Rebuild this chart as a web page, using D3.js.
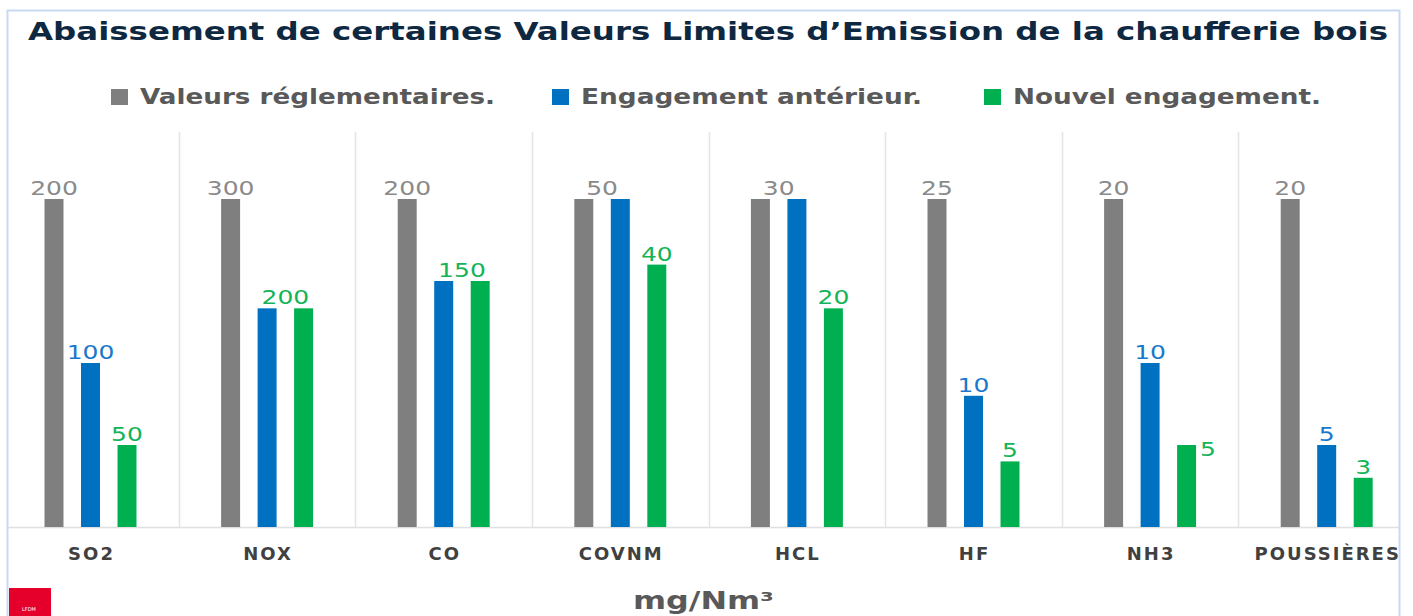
<!DOCTYPE html>
<html lang="fr">
	<head>
		<meta charset="utf-8">
		<title>Abaissement des VLE</title>
		<script src="https://cdn.jsdelivr.net/npm/d3@7"></script>
		<style type="text/css">
			body { margin: 0; background: #fff; }
			text { font-family: "DejaVu Sans", sans-serif; }
		</style>
	</head>
	<body>
		<script type="text/javascript">

			const w = 1413;
			const h = 616;

			// data (mg/Nm3)
			const categories = ["SO2", "NOX", "CO", "COVNM", "HCL", "HF", "NH3", "POUSSIÈRES"];
			const valeursReglementaires = [200, 300, 200, 50, 30, 25, 20, 20];
			const engagementAnterieur = [100, 200, 150, 50, 30, 10, 10, 5];
			const nouvelEngagement = [50, 200, 150, 40, 20, 5, 5, 3];
			const seriesNames = ["Valeurs réglementaires.", "Engagement antérieur.", "Nouvel engagement."];

			const colors = ["#7f7f7f", "#0070c0", "#00b050"];
			const labelColors = ["#8a8a8a", "#1a78cc", "#13b457"];

			const allSeries = [valeursReglementaires, engagementAnterieur, nouvelEngagement];

			const svg = d3.select("body")
				.append("svg")
				.attr("width", w)
				.attr("height", h);

			// frame
			svg.append("rect")
				.attr("x", 7.5)
				.attr("y", 10.5)
				.attr("width", 1392)
				.attr("height", 640)
				.attr("fill", "none")
				.attr("stroke", "#c9daf0")
				.attr("stroke-width", 2);

			svg.append("text")
				.attr("x", 28)
				.attr("y", 40)
				.attr("font-size", 25)
				.attr("font-weight", "bold")
				.attr("fill", "#0e2841")
				.attr("textLength", 1360)
				.attr("lengthAdjust", "spacingAndGlyphs")
				.text("Abaissement de certaines Valeurs Limites d\u2019Emission de la chaufferie bois");

			// legend
			const legendX = [111, 552, 984];
			const legendW = [355, 341, 308];
			const legend = svg.selectAll(".legend")
				.data(seriesNames)
				.enter()
				.append("g")
				.attr("class", "legend")
				.attr("transform", (d, i) => "translate(" + legendX[i] + ",89)");

			legend.append("rect")
				.attr("width", 17)
				.attr("height", 16)
				.attr("fill", (d, i) => colors[i]);

			legend.append("text")
				.attr("x", 29)
				.attr("y", 15)
				.attr("font-size", 21)
				.attr("font-weight", "bold")
				.attr("fill", "#595959")
				.attr("textLength", (d, i) => legendW[i])
				.attr("lengthAdjust", "spacingAndGlyphs")
				.text((d) => d);

			// scales
			const xScale = d3.scaleBand()
				.domain(categories)
				.range([2.2, 1415]);

			const xInner = d3.scaleBand()
				.domain([0, 1, 2])
				.range([xScale.bandwidth() / 2 - 54.75, xScale.bandwidth() / 2 + 54.75])
				.paddingInner(0.48)
				.paddingOuter(0.24);

			const yScale = d3.scaleLinear()
				.domain([0, 1])
				.range([527, 199]);

			// category separators
			svg.selectAll(".sep")
				.data(categories.slice(1))
				.enter()
				.append("line")
				.attr("x1", (d) => Math.round(xScale(d)) + 0.5)
				.attr("x2", (d) => Math.round(xScale(d)) + 0.5)
				.attr("y1", 132)
				.attr("y2", 527)
				.attr("stroke", "#e4e4e4")
				.attr("stroke-width", 1.5);

			svg.append("line")
				.attr("x1", 8)
				.attr("x2", 1399)
				.attr("y1", 527.5)
				.attr("y2", 527.5)
				.attr("stroke", "#e0e0e0")
				.attr("stroke-width", 1.5);

			// bars, height relative to the regulatory value of each category
			const barData = [];
			categories.forEach((c, i) => {
				allSeries.forEach((s, j) => {
					barData.push({cat: c, i: i, s: j, value: s[i], ratio: s[i] / valeursReglementaires[i]});
				});
			});

			svg.selectAll(".bar")
				.data(barData)
				.enter()
				.append("rect")
				.attr("class", "bar")
				.attr("x", (d) => xScale(d.cat) + xInner(d.s))
				.attr("y", (d) => yScale(d.ratio))
				.attr("width", xInner.bandwidth())
				.attr("height", (d) => yScale(0) - yScale(d.ratio))
				.attr("fill", (d) => colors[d.s]);

			// value labels: equal neighbouring values share one label between the bars
			const labelData = [];
			barData.forEach((d) => {
				const cx = (s) => xScale(d.cat) + xInner(s) + xInner.bandwidth() / 2;
				const vals = allSeries.map((s) => s[d.i]);
				if (d.s === 1 && (vals[1] === vals[0] || vals[1] === vals[2])) return;
				let x = cx(d.s);
				if (d.s === 0 && vals[1] === vals[0]) x = (cx(0) + cx(1)) / 2;
				if (d.s === 2 && vals[1] === vals[2]) x = (cx(1) + cx(2)) / 2;
				let y = yScale(d.ratio) - 4;
				let anchor = "middle";
				if (d.cat === "NH3" && d.s === 2) {
					x = cx(2) + xInner.bandwidth() / 2 + 4;
					y = yScale(d.ratio) + 11;
					anchor = "start";
				}
				labelData.push({x: x, y: y, anchor: anchor, s: d.s, value: d.value});
			});

			svg.selectAll(".val")
				.data(labelData)
				.enter()
				.append("text")
				.attr("class", "val")
				.attr("transform", (d) => "translate(" + d.x + "," + d.y + ") scale(1.25,1)")
				.attr("text-anchor", (d) => d.anchor)
				.attr("font-size", 20)
				.attr("fill", (d) => labelColors[d.s])
				.text((d) => d.value);

			// category axis
			const xAxis = d3.axisBottom(xScale).tickSize(0).tickPadding(0);
			const axisG = svg.append("g")
				.attr("transform", "translate(0,560)")
				.call(xAxis);
			axisG.select(".domain").remove();
			axisG.selectAll("text")
				.attr("dy", 0)
				.attr("dx", 1)
				.attr("font-size", 18)
				.attr("font-weight", "bold")
				.attr("letter-spacing", 2)
				.attr("fill", "#404040")
				.style("font-family", "'DejaVu Sans', sans-serif");

			svg.append("text")
				.attr("x", 633)
				.attr("y", 609)
				.attr("font-size", 24)
				.attr("font-weight", "bold")
				.attr("fill", "#595959")
				.attr("textLength", 141)
				.attr("lengthAdjust", "spacingAndGlyphs")
				.text("mg/Nm\u00b3");

			// logo corner
			svg.append("rect")
				.attr("x", 9)
				.attr("y", 588)
				.attr("width", 42)
				.attr("height", 30)
				.attr("fill", "#e4002b");

			svg.append("text")
				.attr("x", 22)
				.attr("y", 611)
				.attr("font-size", 5)
				.attr("fill", "#fff")
				.text("LFDM");

		</script>
	</body>
</html>
